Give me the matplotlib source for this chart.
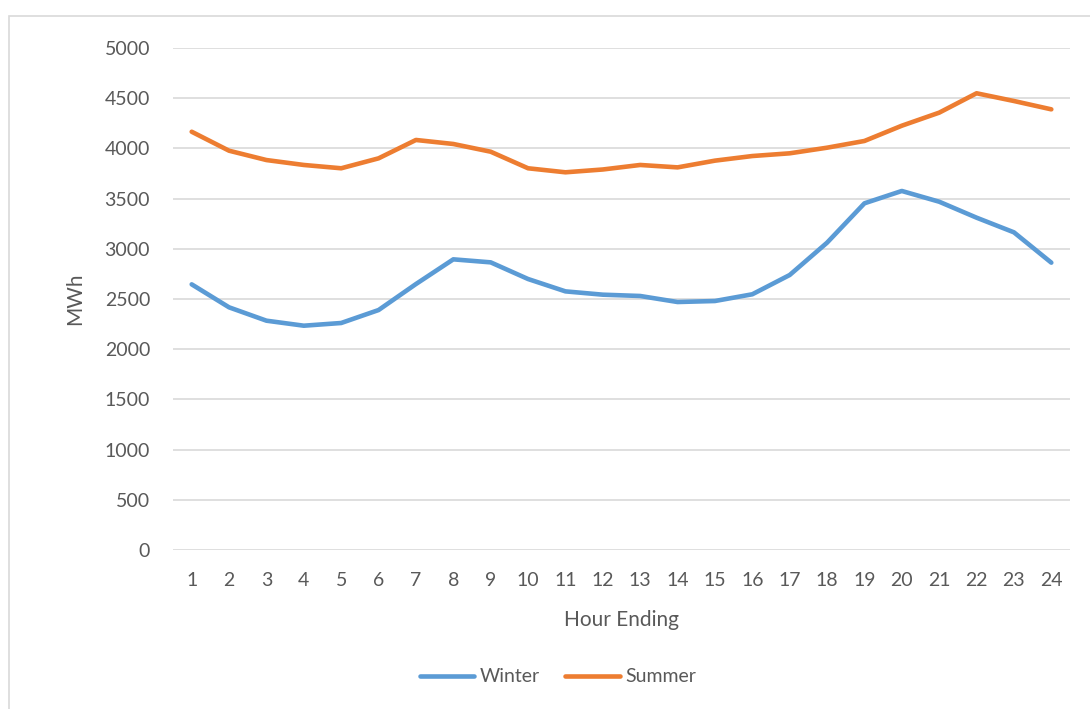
import matplotlib
matplotlib.use("Agg")
import matplotlib.pyplot as plt
from matplotlib.patches import Rectangle
from matplotlib.lines import Line2D

hours = list(range(1, 25))
winter = [2646, 2417, 2284, 2234, 2261, 2390, 2649, 2895, 2865, 2699, 2576, 2543,
          2530, 2470, 2480, 2547, 2739, 3061, 3453, 3576, 3469, 3310, 3164, 2862]
summer = [4166, 3977, 3884, 3835, 3802, 3901, 4084, 4044, 3967, 3802, 3762, 3790,
          3835, 3811, 3878, 3924, 3951, 4007, 4074, 4226, 4356, 4549, 4472, 4389]
yticks = [0, 500, 1000, 1500, 2000, 2500, 3000, 3500, 4000, 4500, 5000]

plt.rcParams['font.family'] = ['Lato', 'DejaVu Sans']
W, H = 1090, 709
fig = plt.figure(figsize=(W / 100, H / 100), dpi=100)
fig.patch.set_facecolor('white')

# chart border (partially cropped)
fig.patches.append(Rectangle((8.5 / W, -0.1), 1.2, (H - 15.5) / H + 0.1,
                             transform=fig.transFigure, fill=False,
                             edgecolor='#D9D9D9', linewidth=1.2))

ax = fig.add_axes([173 / W, (H - 550) / H, 897 / W, 502 / H])
ax.set_facecolor('none')
for s in ax.spines.values():
    s.set_visible(False)

ax.plot(hours, winter, color='#5B9BD5', linewidth=3.3, solid_capstyle='round',
        solid_joinstyle='round', label='Winter', zorder=3)
ax.plot(hours, summer, color='#ED7D31', linewidth=3.3, solid_capstyle='round',
        solid_joinstyle='round', label='Summer', zorder=3)

ax.set_xlim(0.5, 24.5)
ax.set_ylim(0, 5000)
ax.set_yticks(yticks)
ax.set_xticks(hours)
ax.set_xticklabels([str(h) for h in hours])
ax.grid(axis='y', color='#D9D9D9', linewidth=1.2)
ax.set_axisbelow(True)
ax.tick_params(length=0, labelsize=14, colors='#595959')
ax.tick_params(axis='x', pad=16)
ax.tick_params(axis='y', pad=16.5)

ax.set_ylabel('MWh', fontsize=15, color='#595959', labelpad=14)
ax.set_xlabel('Hour Ending', fontsize=15, color='#595959', labelpad=15)

handles = [Line2D([0], [0], color='#5B9BD5', linewidth=3.3, solid_capstyle='round'),
           Line2D([0], [0], color='#ED7D31', linewidth=3.3, solid_capstyle='round')]
leg = fig.legend(handles, ['Winter', 'Summer'], loc='center',
                 bbox_to_anchor=(558 / W, 1 - 677 / H), ncol=2, frameon=False,
                 fontsize=14, handlelength=2.8, handletextpad=0.3,
                 columnspacing=1.3)
for t in leg.get_texts():
    t.set_color('#595959')

fig.savefig('out.png', dpi=100, facecolor='white')
